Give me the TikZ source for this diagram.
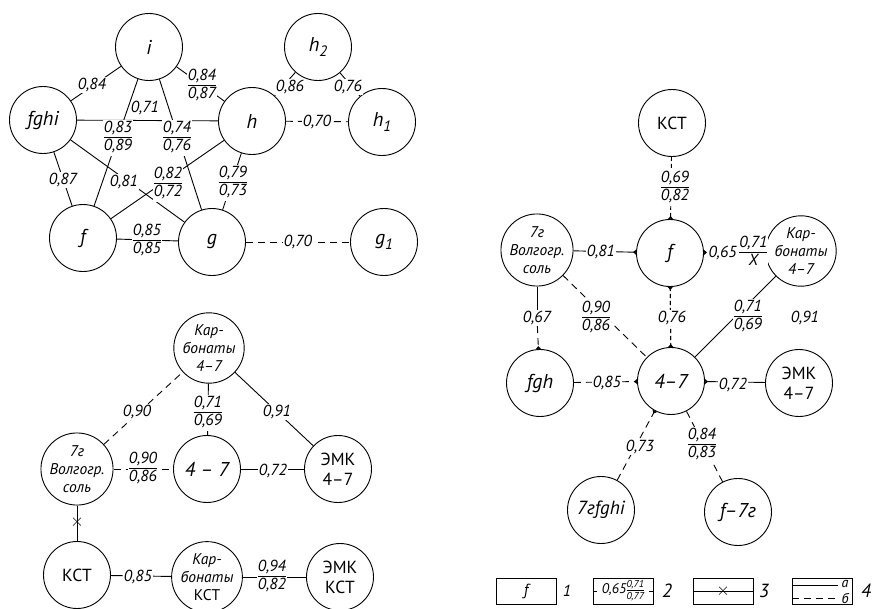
\documentclass[tikz,border=0pt]{standalone}
\usepackage{fontspec}
\setmainfont{PT Sans}
\usetikzlibrary{arrows.meta}
\setlength\arrayrulewidth{0.8pt}
\renewcommand\arraystretch{0.85}
\newcommand\frc[2]{\begin{tabular}{@{}c@{}}#1\\\hline\noalign{\vskip1pt}#2\end{tabular}}
\tikzset{
  nd/.style={circle,draw,line width=0.9pt,minimum size=67pt,inner sep=0pt,font=\fontsize{20}{21}\selectfont\itshape},
  ndm/.style={nd,font=\fontsize{15.5}{18}\selectfont\itshape,align=center},
  ndu/.style={nd,font=\fontsize{17.5}{20}\selectfont,align=center},
  lbl/.style={font=\fontsize{16}{17}\selectfont\itshape,inner sep=1pt,fill=white},
  lbn/.style={lbl,fill=none},
  ln/.style={line width=0.9pt},
  dsh/.style={ln,dash pattern=on 7pt off 5pt},
  dsf/.style={ln,dash pattern=on 4pt off 3pt},
  tk/.style={-{Triangle[reversed,width=5pt,length=3pt]}},
  crs/.style={inner sep=0pt,font=\fontsize{17}{17}\selectfont},
  lgbox/.style={draw,line width=0.9pt,minimum width=60pt,minimum height=26pt,inner sep=0pt,font=\fontsize{16}{17}\selectfont\itshape},
}
\begin{document}
\begin{tikzpicture}[x=1pt,y=-1pt]
\useasboundingbox (0,0) rectangle (872,608);
% ---------- top-left graph ----------
\node[nd] (i) at (149,47) {i};
\node[nd] (fghi) at (43,120) {fghi};
\node[nd] (h) at (252,121) {h};
\node[nd] (h2) at (318,47) {h\raisebox{-5pt}{\fontsize{15}{16}\selectfont 2}};
\node[nd] (h1) at (382,122) {h\raisebox{-5pt}{\fontsize{15}{16}\selectfont 1}};
\node[nd] (f) at (83,238) {f};
\node[nd] (g) at (212,242) {g};
\node[nd] (g1) at (384,242) {g\raisebox{-5pt}{\fontsize{15}{16}\selectfont 1}};
\draw[ln] (fghi) -- (i);
\draw[ln] (i) -- (h);
\draw[ln] (fghi) -- (h);
\draw[ln] (i) -- (f);
\draw[ln] (i) -- (g);
\draw[ln] (fghi) -- (f);
\draw[ln] (fghi) -- (g);
\draw[ln] (h) -- (f);
\draw[ln] (h) -- (g);
\draw[ln] (f) -- (g);
\draw[ln] (h) -- (h2);
\draw[ln] (h2) -- (h1);
\draw[dsh] (h) -- (h1);
\draw[dsh] (g) -- (g1);
\node[lbl] (a1) at (92,85) {0,84};
\node[lbl] (a2) at (202,86) {\frc{0,84}{0,87}};
\node[lbn] (a3) at (145,108) {0,71};
\node[lbl] (a4) at (118,138) {\frc{0,83}{0,89}};
\node[lbl] (a5) at (177,138) {\frc{0,74}{0,76}};
\node[lbl] (a6) at (63,180) {0,87};
\node[lbl] (a7) at (124,182) {0,81};
\node[lbl] (a8) at (168,184) {\frc{0,82}{0,72}};
\node[lbl] (a9) at (233,183) {\frc{0,79}{0,73}};
\node[lbl] (a10) at (147,241) {\frc{0,85}{0,85}};
\node[lbl] (a11) at (290,87) {0,86};
\node[lbl] (a12) at (348,87) {0,76};
\node[lbl] (a13) at (317,122) {0,70};
\node[lbl] (a14) at (298,242) {0,70};
% ---------- bottom-left graph ----------
\node[ndm] (kb1) at (209,348) {Кар-\\бонаты\\4–7};
\node[ndm] (v7) at (77,469) {7г\\Волгогр.\\соль};
\node[nd] (c1) at (207,469) {4 – 7};
\node[ndu] (emk1) at (338,469) {ЭМК\\4–7};
\node[ndu] (kct1) at (77,575) {КСТ};
\node[ndm] (kbk) at (207,577) {Кар-\\бонаты\\\upshape КСТ};
\node[ndu] (emkk) at (340,577) {ЭМК\\КСТ};
\draw[dsh] (v7) -- (kb1);
\draw[ln] (kb1) -- (c1);
\draw[ln] (kb1) -- (emk1);
\draw[dsh] (v7) -- (c1);
\draw[ln] (c1) -- (emk1);
\draw[ln] (v7) -- (kct1);
\draw[ln] (kct1) -- (kbk);
\draw[ln] (kbk) -- (emkk);
\node[lbl] (b1) at (137,412) {0,90};
\node[lbl] (b2) at (208,413) {\frc{0,71}{0,69}};
\node[lbl] (b3) at (277,412) {0,91};
\node[lbl] (b4) at (143,469) {\frc{0,90}{0,86}};
\node[lbl] (b5) at (273,471) {0,72};
\node[crs] (b6) at (77,522) {$\times$};
\node[lbl] (b7) at (138,577) {0,85};
\node[lbl] (b8) at (272,577) {\frc{0,94}{0,82}};
% ---------- right graph ----------
\node[ndu] (kct) at (672,123) {КСТ};
\node[nd] (f2) at (670,253) {f};
\node[ndm] (v7r) at (537,250) {7г\\Волгогр.\\соль};
\node[ndm] (kb) at (801,251) {Кар-\\бонаты\\4–7};
\node[nd] (c47) at (671,381) {4–7};
\node[ndu] (emk) at (799,383) {ЭМК\\4–7};
\node[nd] (fgh) at (540,383) {fgh};
\node[nd,font=\fontsize{19}{20}\selectfont\itshape] (sfg) at (601,510) {7гfghi};
\node[nd] (f7) at (738,512) {f–7г};
\draw[dsf,tk] (kct) -- (f2);
\draw[ln,tk] (v7r) -- (f2);
\draw[dsh,tk] (kb) -- (f2);
\draw[dsh] (v7r) -- (c47);
\draw[dsf,tk] (f2) -- (c47);
\draw[dsf,tk] (c47) -- (f2);
\draw[ln] (kb) -- (c47);
\draw[dsh,tk] (fgh) -- (c47);
\draw[ln,tk] (emk) -- (c47);
\draw[dsh,tk] (sfg) -- (c47);
\draw[dsh] (f7) -- (c47);
\node[lbl] (r1) at (675,188) {\frc{0,69}{0,82}};
\node[lbl] (r2) at (601,252) {0,81};
\node[lbl] (r3) at (738,253) {0,65\,\frc{0,71}{X}};
\node[lbl] (r4) at (537,318) {0,67};
\draw[ln] (v7r) -- (r4);
\draw[dsh,tk] (r4) -- (fgh);
\node[lbl] (r5) at (596,318) {\frc{0,90}{0,86}};
\node[lbl] (r6) at (672,318) {0,76};
\node[lbl] (r7) at (748,317) {\frc{0,71}{0,69}};
\node[lbn] (r8) at (805,318) {0,91};
\node[lbl] (r9) at (607,383) {0,85};
\node[lbl] (r10) at (733,385) {0,72};
\node[lbl] (r11) at (640,447) {0,73};
\node[lbl] (r12) at (702,445) {\frc{0,84}{0,83}};
% ---------- legend ----------
\node[lgbox] (L1) at (526,591) {f};
\node[lbn] (n1) at (567,591) {1};
\node[lgbox] (L2) at (623,591) {{\fontsize{14}{15}\selectfont 0,65}{\fontsize{10}{11}\selectfont\frc{0,71}{0,77}}};
\draw[ln] (L2.west) -- ++(4,0);
\draw[ln] (L2.east) -- ++(-4,0);
\node[lbn] (n2) at (667,591) {\fontsize{19}{19}\selectfont 2};
\node[lgbox] (L3) at (723,591) {};
\draw[ln] (L3.west) -- (L3.east);
\node[crs] (x3) at (L3.center) {$\times$};
\node[lbn] (n3) at (764,591) {\fontsize{19}{19}\selectfont 3};
\node[lgbox] (L4) at (822,591) {};
\coordinate (L4a) at (792,585);
\coordinate (L4b) at (838,585);
\coordinate (L4c) at (792,598);
\coordinate (L4d) at (838,598);
\draw[ln] (L4a) -- (L4b);
\draw[dsh] (L4c) -- (L4d);
\node[lbn,font=\fontsize{14}{14}\selectfont\itshape] (la) at (845,584) {а};
\node[lbn,font=\fontsize{14}{14}\selectfont\itshape] (lb) at (845,598) {б};
\node[lbn] (n4) at (866,591) {\fontsize{19}{19}\selectfont 4};
\end{tikzpicture}
\end{document}
